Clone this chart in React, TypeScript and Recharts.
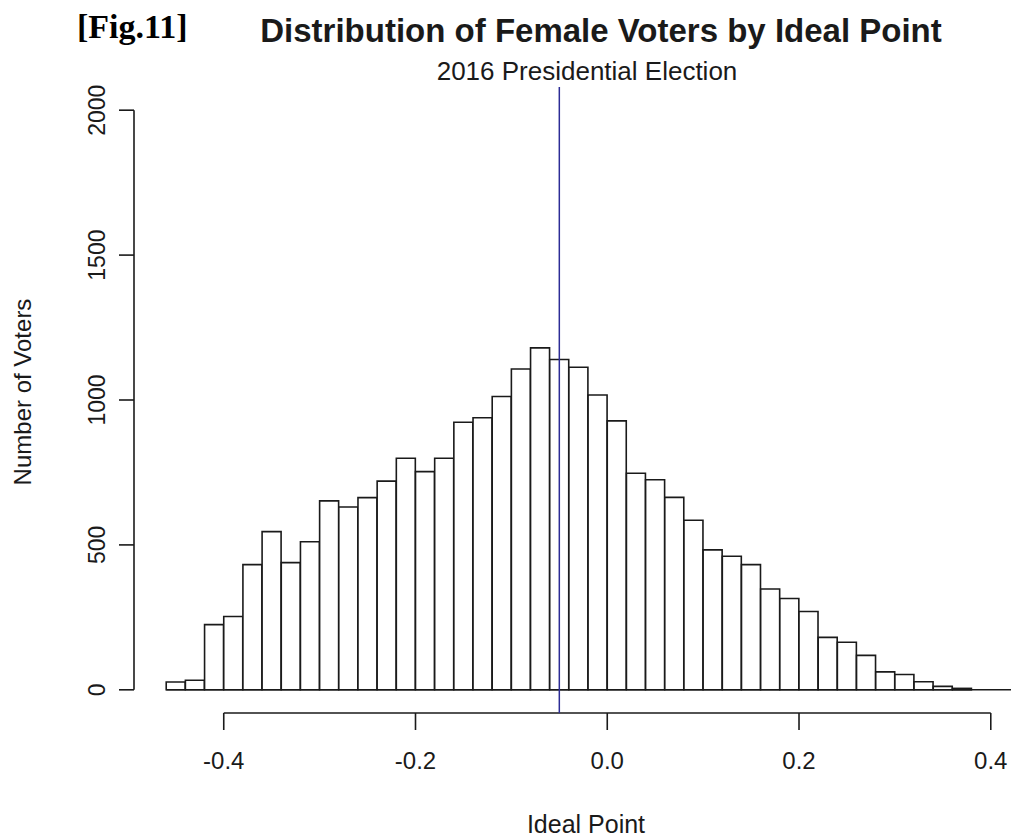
import React from "react";
import { ComposedChart, Bar, XAxis, YAxis, ReferenceLine } from "recharts";

const binStarts = [
  -0.46, -0.44, -0.42, -0.4, -0.38, -0.36, -0.34, -0.32, -0.3, -0.28, -0.26,
  -0.24, -0.22, -0.2, -0.18, -0.16, -0.14, -0.12, -0.1, -0.08, -0.06, -0.04,
  -0.02, 0.0, 0.02, 0.04, 0.06, 0.08, 0.1, 0.12, 0.14, 0.16, 0.18, 0.2, 0.22,
  0.24, 0.26, 0.28, 0.3, 0.32, 0.34, 0.36,
];
const counts = [
  27, 33, 225, 253, 432, 546, 439, 511, 652, 631, 663, 720, 799, 753, 799, 923,
  939, 1012, 1107, 1180, 1140, 1113, 1017, 928, 747, 725, 664, 585, 483, 461,
  432, 348, 315, 270, 181, 164, 119, 62, 53, 28, 12, 5,
];
const binWidth = 0.02;
const xTicks = [-0.4, -0.2, 0.0, 0.2, 0.4];
const yTicks = [0, 500, 1000, 1500, 2000];
const electionPoint = -0.05;

const data = binStarts.map((s, i) => ({
  mid: Math.round((s + binWidth / 2) * 1000) / 1000,
  count: counts[i],
}));

const W = 1011;
const H = 839;
const TOP = 87;
const LEFT = 134;
const XAXIS_H = 126;
const X_DOMAIN: [number, number] = [-0.4936, 0.4211];
const Y_DOMAIN: [number, number] = [-80, 2080];
const INK = "#1a1a1a";
const SANS = "'Liberation Sans', Arial, sans-serif";

const YTick = (props: any) => {
  const { x, y, payload } = props;
  const bx = x - 14;
  return (
    <text
      x={bx}
      y={y}
      transform={`rotate(-90, ${bx}, ${y})`}
      textAnchor="middle"
      fontFamily={SANS}
      fontSize={23}
      fill={INK}
    >
      {String(payload.value)}
    </text>
  );
};

const XTick = (props: any) => {
  const { x, y, payload } = props;
  return (
    <text
      x={x}
      y={y}
      dy="0.71em"
      textAnchor="middle"
      fontFamily={SANS}
      fontSize={24}
      fill={INK}
    >
      {Number(payload.value).toFixed(1)}
    </text>
  );
};

export default function App() {
  return (
    <div style={{ position: "absolute", left: 0, top: 0, width: W, height: H, background: "#fff" }}>
      <ComposedChart
        width={W}
        height={H}
        data={data}
        margin={{ top: TOP, right: 0, bottom: 0, left: 0 }}
        barCategoryGap={0}
        barGap={0}
      >
        <XAxis
          dataKey="mid"
          type="number"
          domain={X_DOMAIN}
          allowDataOverflow
          ticks={xTicks}
          interval={0}
          axisLine={false}
          tickLine={{ stroke: INK, strokeWidth: 1.6 }}
          tickSize={17}
          tickMargin={22}
          tick={<XTick />}
          height={XAXIS_H}
        />
        <YAxis
          type="number"
          domain={Y_DOMAIN}
          allowDataOverflow
          ticks={yTicks}
          interval={0}
          axisLine={false}
          tickLine={{ stroke: INK, strokeWidth: 1.6 }}
          tickSize={15}
          tickMargin={0}
          tick={<YTick />}
          width={LEFT}
        />
        <Bar
          dataKey="count"
          fill="#ffffff"
          stroke={INK}
          strokeWidth={1.6}
          isAnimationActive={false}
        />
        <ReferenceLine
          segment={[{ x: -0.46, y: 0 }, { x: X_DOMAIN[1], y: 0 }]}
          stroke={INK}
          strokeWidth={1.6}
          ifOverflow="visible"
        />
        <ReferenceLine
          segment={[{ x: -0.4, y: Y_DOMAIN[0] }, { x: 0.4, y: Y_DOMAIN[0] }]}
          stroke={INK}
          strokeWidth={1.6}
          ifOverflow="visible"
        />
        <ReferenceLine
          segment={[{ x: X_DOMAIN[0], y: 0 }, { x: X_DOMAIN[0], y: 2000 }]}
          stroke={INK}
          strokeWidth={1.6}
          ifOverflow="visible"
        />
        <ReferenceLine x={electionPoint} stroke="#2c2c96" strokeWidth={1.5} ifOverflow="visible" />
      </ComposedChart>
      <svg
        width={W}
        height={H}
        style={{ position: "absolute", left: 0, top: 0, pointerEvents: "none" }}
      >
        <text x={77} y={38} fontFamily="'Liberation Serif', 'Times New Roman', serif" fontWeight="bold" fontSize={34} fill="#000">
          [Fig.11]
        </text>
        <text x={601} y={42} textAnchor="middle" fontFamily={SANS} fontWeight="bold" fontSize={33} fill={INK}>
          Distribution of Female Voters by Ideal Point
        </text>
        <text x={587} y={80} textAnchor="middle" fontFamily={SANS} fontSize={26} fill={INK}>
          2016 Presidential Election
        </text>
        <text x={586} y={833} textAnchor="middle" fontFamily={SANS} fontSize={25} fill={INK}>
          Ideal Point
        </text>
        <text
          x={31}
          y={392}
          transform="rotate(-90, 31, 392)"
          textAnchor="middle"
          fontFamily={SANS}
          fontSize={24}
          fill={INK}
        >
          Number of Voters
        </text>
      </svg>
    </div>
  );
}
